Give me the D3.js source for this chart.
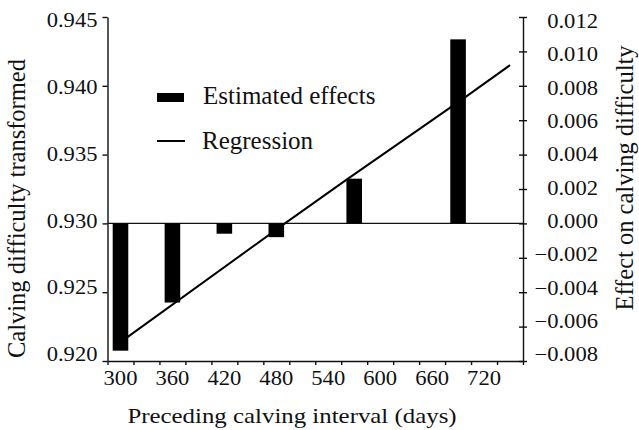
<!DOCTYPE html>
<html>
<head>
<meta charset="utf-8">
<script src="https://cdn.jsdelivr.net/npm/d3@7"></script>
<style>
	body { margin: 0; background: #fff; }
	text { font-family: 'Liberation Serif', 'Times New Roman', serif; fill: #111; }
</style>
</head>
<body>
<script>
// preceding calving interval classes (days) and their estimated effects
const interval_days = [300, 360, 420, 480, 570, 690];
const estimated_effects = [-0.0074, -0.0046, -0.0006, -0.0008, 0.0026, 0.0107];

// regression line
const regression_days = [300, 490, 560, 700, 750];
const regression_effects = [-0.0069, 0.0000, 0.0025, 0.0074, 0.0092];

// axis ticks
const left_ticks = [0.920, 0.925, 0.930, 0.935, 0.940, 0.945];
const right_ticks = [-0.008, -0.006, -0.004, -0.002, 0.000, 0.002, 0.004, 0.006, 0.008, 0.010, 0.012];
const x_labels = [300, 360, 420, 480, 540, 600, 660, 720];
const x_tick_marks = [285, 315, 345, 375, 405, 435, 465, 495, 525, 555, 585, 615, 645, 675, 705, 735, 765];

const legend_labels = ['Estimated effects', 'Regression'];

function init()
{
	const width = 639;
	const height = 430;
	const plot_left = 107.5;
	const plot_right = 523;
	const plot_top = 17;
	const plot_bottom = 361;
	const stretch = 1.13; // tick labels in the figure are a bit wide

	var svg = d3.select('body').append('svg')
				.attr('width', width)
				.attr('height', height);

	var x = d3.scaleLinear()
				.domain([285, 765])
				.range([plot_left, plot_right]);

	var y_left = d3.scaleLinear()
				.domain([0.920, 0.945])
				.range([plot_bottom, plot_top]);

	var y_right = d3.scaleLinear()
				.domain([-0.008, 0.012])
				.range([plot_bottom, plot_top]);

	// the printed labels sit slightly inside the outer ticks
	var label_left = d3.scaleLinear().domain([0.920, 0.945]).range([354, 19.5]);
	var label_right = d3.scaleLinear().domain([-0.008, 0.012]).range([354, 20.5]);

	function style_axis(g)
	{
		g.selectAll('path, line').attr('stroke', '#111').attr('stroke-width', 1.4);
		g.selectAll('text').attr('font-size', 20).attr('fill', '#111');
	}

	// left axis
	var left_axis = svg.append('g')
		.attr('transform', 'translate(' + plot_left + ',0)')
		.call(d3.axisLeft(y_left).tickValues(left_ticks).tickSize(5).tickSizeOuter(0).tickFormat(d3.format('.3f')));
	left_axis.call(style_axis);
	left_axis.selectAll('.tick text')
		.attr('x', -10 / stretch)
		.attr('y', function(d) { return label_left(d) - y_left(d); })
		.attr('dy', '0.34em')
		.attr('transform', 'scale(' + stretch + ',1)');

	// right axis, ticks cross the line
	var right_axis = svg.append('g')
		.attr('transform', 'translate(' + plot_right + ',0)')
		.call(d3.axisRight(y_right).tickValues(right_ticks).tickSize(4).tickSizeOuter(0)
			.tickFormat(function(d) { return d3.format('.3f')(d).replace('-', '\u2212'); }));
	right_axis.call(style_axis);
	right_axis.selectAll('.tick line').attr('x1', -4).attr('x2', 4);
	right_axis.selectAll('.tick text')
		.attr('text-anchor', 'end')
		.attr('x', (598 - plot_right) / stretch)
		.attr('y', function(d) { return label_right(d) - y_right(d); })
		.attr('dy', '0.34em')
		.attr('transform', 'scale(' + stretch + ',1)');

	// bottom axis: marks between the labels
	var bottom_axis = svg.append('g')
		.attr('transform', 'translate(0,' + plot_bottom + ')')
		.call(d3.axisBottom(x).tickValues(x_tick_marks).tickSize(4).tickSizeOuter(0).tickFormat(''));
	bottom_axis.call(style_axis);

	var bottom_labels = svg.append('g')
		.attr('transform', 'translate(0,' + plot_bottom + ')')
		.call(d3.axisBottom(x).tickValues(x_labels).tickSize(0).tickFormat(d3.format('d')));
	bottom_labels.select('.domain').remove();
	bottom_labels.call(style_axis);
	bottom_labels.selectAll('.tick text')
		.attr('y', 24)
		.attr('dy', 0)
		.attr('x', 0)
		.attr('transform', 'scale(' + stretch + ',1)');
	bottom_labels.selectAll('.tick')
		.attr('transform', function(d) { return 'translate(' + x(d) + ',0)'; });

	// zero line
	svg.append('line')
		.attr('x1', plot_left).attr('x2', plot_right)
		.attr('y1', y_right(0)).attr('y2', y_right(0))
		.attr('stroke', '#111')
		.attr('stroke-width', 1.2);

	// bars
	const half_bar = 9;
	svg.append('g')
		.selectAll('rect')
		.data(interval_days.map(function(d, i) { return {day : d, effect : estimated_effects[i]}; }))
		.enter()
		.append('rect')
			.attr('x', function(d) { return x(d.day - half_bar); })
			.attr('width', function(d) { return x(d.day + half_bar) - x(d.day - half_bar); })
			.attr('y', function(d) { return y_right(Math.max(0, d.effect)); })
			.attr('height', function(d) { return Math.abs(y_right(d.effect) - y_right(0)); })
			.attr('fill', '#000');

	// regression
	svg.append('path')
		.datum(regression_days.map(function(d, i) { return {day : d, effect : regression_effects[i]}; }))
		.attr('fill', 'none')
		.attr('stroke', '#000')
		.attr('stroke-width', 2)
		.attr('d', d3.line()
						.x(function(d) { return x(d.day); })
						.y(function(d) { return y_right(d.effect); }));

	// legend
	var legend = svg.append('g');
	legend.append('rect')
		.attr('x', 157).attr('y', 93)
		.attr('width', 27).attr('height', 9)
		.attr('fill', '#000');
	legend.append('line')
		.attr('x1', 157).attr('x2', 185)
		.attr('y1', 141).attr('y2', 141)
		.attr('stroke', '#000')
		.attr('stroke-width', 2);
	legend.append('text')
		.attr('x', 203).attr('y', 104)
		.attr('font-size', 25)
		.text(legend_labels[0]);
	legend.append('text')
		.attr('x', 202).attr('y', 149)
		.attr('font-size', 25)
		.text(legend_labels[1]);

	// axis titles
	svg.append('text')
		.attr('text-anchor', 'middle')
		.attr('font-size', 22)
		.attr('transform', 'translate(292,423) scale(' + stretch + ',1)')
		.text('Preceding calving interval (days)');

	svg.append('text')
		.attr('text-anchor', 'middle')
		.attr('font-size', 24.5)
		.attr('transform', 'translate(25,208.5) rotate(-90)')
		.text('Calving difficulty transformed');

	svg.append('text')
		.attr('text-anchor', 'middle')
		.attr('font-size', 24.5)
		.attr('transform', 'translate(633,178) rotate(-90)')
		.text('Effect on calving difficulty');
}

init();
</script>
</body>
</html>
